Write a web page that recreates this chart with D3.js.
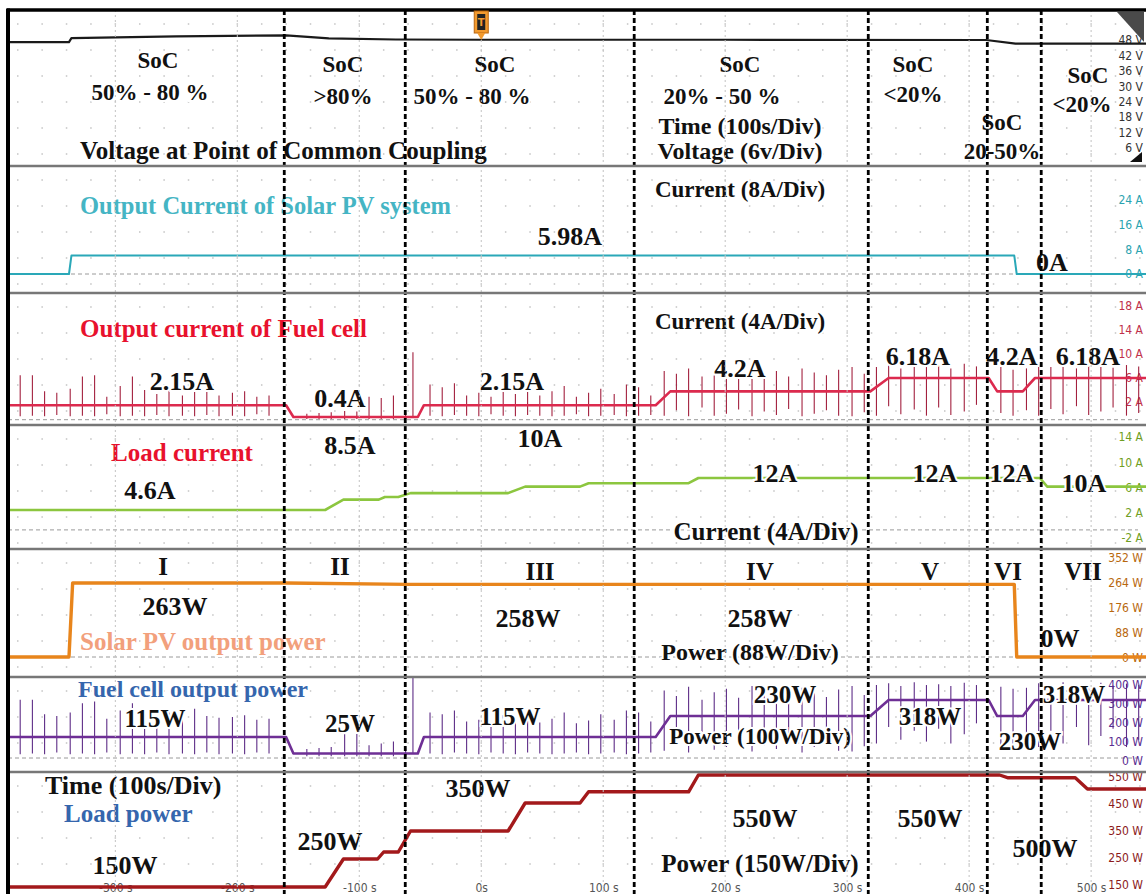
<!DOCTYPE html>
<html>
<head>
<meta charset="utf-8">
<script src="https://cdn.jsdelivr.net/npm/d3@7"></script>
<style>
  body { margin: 0; background: #fff; }
  svg { display: block; }
</style>
</head>
<body>
<svg id="scope" width="1146" height="894"></svg>
<script>
// ---------------- data ----------------
// time axis (seconds)
const timeTicks = [-300, -200, -100, 0, 100, 200, 300, 400, 500];
// operating-mode boundaries (s) and mode names
const modeBounds = [-161.5, -62.3, 125.4, 317.3, 414.9, 459.1];
const modeNames = ["I", "II", "III", "IV", "V", "VI", "VII"];

// right-hand channel scale labels
const voltTicks    = [48, 42, 36, 30, 24, 18, 12, 6];
const pvCurTicks   = [24, 16, 8, 0];
const fcCurTicks   = [18, 14, 10, 6, 2];
const loadCurTicks = [14, 10, 6, 2, -2];
const pvPowTicks   = [352, 264, 176, 88, 0];
const fcPowTicks   = [400, 300, 200, 100, 0];
const loadPowTicks = [550, 450, 350, 250, 150];

// PCC voltage (V)
const voltT = [-388, -338, -336, -250, -160, -125, -70, 0, 200, 414, 438, 545];
const voltV = [47.2, 47.2, 48.7, 49.4, 49.8, 48.6, 48.2, 48.1, 48.1, 48.0, 46.6, 46.6];

// PV current (A): levels and transitions [start, end] in s
const pvCurLevels = [0, 5.98, 0];
const pvCurTrans  = [[-338, -336], [437, 439]];

// fuel cell current (A) and power (W)
const fcCurLevels = [2.15, 0.4, 2.15, 4.2, 6.18, 4.2, 6.18];
const fcPowLevels = [115, 25, 115, 230, 318, 230, 318];
const fcTrans     = [[-160, -154], [-52, -47], [143, 155], [319, 334], [416, 423], [444, 454]];

// load current (A)
const loadCurLevels = [4.6, 7.0, 7.6, 8.5, 10, 10.8, 12, 10];
const loadCurTrans  = [[-128, -113], [-84, -79], [-68, -58], [22, 36], [81, 88], [170, 178], [458, 464]];

// PV power (W)
const pvPowLevels = [0, 263, 258, 0];
const pvPowTrans  = [[-338, -335], [-160, -60], [437, 439]];

// load power (W)
const loadPowLevels = [150, 250, 275, 350, 450, 490, 550, 540, 500];
const loadPowTrans  = [[-128, -113], [-85, -80], [-68, -58], [22, 36], [81, 88], [170, 178], [425, 432], [487, 497]];

// switching spikes on the fuel cell channels
const spikeT = [
  -378, -368, -358, -348, -337, -327, -317, -307, -296, -286, -276, -266, -256, -245, -235, -225, -215, -204, -194, -184, -174,
  -143, -133, -123, -112, -102, -92, -82, -72, -62, -56,
  -42, -32, -22, -12, -2, 8, 18, 28, 38, 48, 58, 68, 78, 88, 98, 109, 119, 129, 139,
  150, 160, 170, 181, 191, 201, 211, 222, 232, 242, 252, 263, 273, 283, 293, 304, 314,
  324, 334, 344, 355, 365, 375, 385, 396, 406,
  426, 436, 447,
  457, 467, 477, 488, 498, 508, 518, 529, 539
];
const fcCurSpikeTop = [
  6.6, 6.6, 4.2, 4.0, 4.6, 6.4, 6.6, 3.4, 5.0, 6.4, 4.4, 3.8, 4.8, 3.6, 5.2, 4.2, 3.6, 4.0, 4.2, 3.4, 3.6,
  0.9, 1.0, 1.1, 1.3, 1.2, 3.4, 3.2, 3.6, 1.0, 10.0,
  5.2, 4.8, 5.4, 3.6, 4.0, 3.4, 4.6, 3.8, 4.4, 3.6, 4.2, 5.0, 3.4, 4.0, 4.6, 3.8, 5.2, 4.8, 3.6,
  7.2, 6.8, 7.6, 6.4, 7.0, 7.4, 6.6, 7.8, 6.8, 7.2, 6.4, 7.6, 7.0, 6.6, 7.4, 7.8, 6.8,
  7.8, 8.2, 7.6, 8.4, 7.8, 8.0, 7.6, 8.3, 7.9,
  7.8, 7.4, 7.6,
  8.2, 7.8, 8.4, 7.6, 8.0, 8.3, 7.7, 8.1, 7.9
];
const fcCurSpikeBot = [
  0.5, 0.6, 0.5, 0.7, 0.5, 0.6, 0.5, 0.8, 0.5, 0.6, 0.5, 0.7, 0.5, 0.6, 0.5, 0.7, 0.5, 0.6, 0.5, 0.8, 0.6,
  0.1, 0.1, 0.1, 0.1, 0.1, 0.1, 0.1, 0.1, 0.1, 0.4,
  0.6, 0.5, 0.7, 0.6, 0.5, 0.8, 0.6, 0.5, 0.7, 0.6, 0.5, 0.6, 0.8, 0.5, 0.6, 0.7, 0.5, 0.6, 0.7,
  0.6, 1.4, 0.5, 1.8, 0.6, 0.9, 1.5, 0.5, 1.2, 0.7, 1.6, 0.5, 0.9, 1.4, 0.6, 0.5, 1.1,
  0.6, 2.0, 0.8, 1.5, 0.6, 1.8, 0.7, 1.2, 2.2,
  1.0, 0.6, 1.4,
  0.6, 1.6, 0.8, 2.0, 0.7, 1.2, 1.8, 0.6, 1.0
];
const fcPowSpikeTop = [
  320, 320, 240, 230, 250, 300, 310, 215, 260, 300, 240, 225, 255, 215, 270, 230, 220, 225, 235, 210, 215,
  50, 55, 60, 130, 150, 70, 80, 90, 60, 440,
  250, 240, 260, 200, 210, 190, 235, 205, 225, 195, 215, 250, 190, 205, 240, 210, 260, 250, 200,
  370, 340, 390, 320, 360, 380, 330, 395, 350, 365, 325, 385, 355, 335, 375, 395, 345,
  400, 410, 395, 415, 400, 405, 395, 412, 400,
  390, 380, 385,
  410, 400, 415, 395, 405, 412, 398, 408, 402
];
const fcPowSpikeBot = [
  20, 25, 20, 30, 20, 25, 20, 30, 20, 25, 20, 30, 20, 25, 20, 30, 20, 25, 20, 30, 25,
  10, 10, 10, 10, 10, 10, 10, 10, 10, 25,
  25, 20, 30, 25, 20, 30, 25, 20, 30, 25, 20, 25, 30, 20, 25, 30, 20, 25, 30,
  40, 80, 30, 100, 45, 60, 90, 35, 70, 50, 95, 30, 60, 85, 40, 35, 65,
  80, 170, 100, 150, 90, 160, 80, 130, 190,
  60, 40, 80,
  60, 150, 80, 170, 70, 120, 160, 60, 100
];

// ---------------- layout ----------------
const W = 1146, H = 894, L = 8, TOP = 10;
const T0 = -388, T1 = 545;
const x = d3.scaleLinear().domain([T0, T1]).range([L, W]);

// per-channel band, scale-label placement and trace scale anchors
const panels = [
  { id: "volt",    top: TOP, bottom: 166, ticks: voltTicks,    unit: "V", tickY: [40, 148],  label: "#333333" },
  { id: "pvCur",   top: 166, bottom: 293, ticks: pvCurTicks,   unit: "A", tickY: [200, 274], label: "#2aa3b0" },
  { id: "fcCur",   top: 293, bottom: 425, ticks: fcCurTicks,   unit: "A", tickY: [306, 402], label: "#c0304a",
    trace: { dom: [0, 6.18], rng: [419.7, 378] } },
  { id: "loadCur", top: 425, bottom: 549, ticks: loadCurTicks, unit: "A", tickY: [437, 538], label: "#6f9e22",
    trace: { dom: [4.6, 12], rng: [510, 478] } },
  { id: "pvPow",   top: 549, bottom: 677, ticks: pvPowTicks,   unit: "W", tickY: [558, 658], label: "#b8680e",
    trace: { dom: [0, 263], rng: [657, 583] } },
  { id: "fcPow",   top: 677, bottom: 772, ticks: fcPowTicks,   unit: "W", tickY: [685, 761], label: "#5a2d91",
    trace: { dom: [0, 318], rng: [758, 700] } },
  { id: "loadPow", top: 772, bottom: H,   ticks: loadPowTicks, unit: "W", tickY: [777, 885], label: "#8b1a1a",
    trace: { dom: [150, 550], rng: [887, 775] } }
];
const P = {};
panels.forEach(p => {
  p.axis = d3.scaleLinear().domain([p.ticks[0], p.ticks[p.ticks.length - 1]]).range(p.tickY);
  p.y = p.trace ? d3.scaleLinear().domain(p.trace.dom).range(p.trace.rng) : p.axis;
  P[p.id] = p;
});

const svg = d3.select("#scope");
const defs = svg.append("defs");
panels.forEach(p => {
  defs.append("clipPath").attr("id", "clip-" + p.id)
    .append("rect").attr("x", L).attr("y", p.top).attr("width", W - L).attr("height", p.bottom - p.top);
});

// step trace: hold each level, ramp across each transition window
function stepPoints(levels, trans) {
  const pts = [[T0, levels[0]]];
  trans.forEach(([a, b], i) => { pts.push([a, levels[i]]); pts.push([b, levels[i + 1]]); });
  pts.push([T1, levels[levels.length - 1]]);
  return pts;
}

const narrow = "'Liberation Sans Narrow','DejaVu Sans Condensed','DejaVu Sans',sans-serif";

// ---------------- background grid dots ----------------
const gDots = svg.append("g").attr("fill", "#c4c4c4");
panels.forEach(p => {
  const rows = d3.range(p.top + 14, p.bottom - 4, 26);
  const cols = d3.range(-380, T1, 20);
  rows.forEach(yy => cols.forEach(tt => {
    gDots.append("rect").attr("x", x(tt) - 0.75).attr("y", yy - 0.75).attr("width", 1.5).attr("height", 1.5);
  }));
});

// ---------------- zero reference lines ----------------
const gZero = svg.append("g").attr("stroke", "#9a9a9a").attr("stroke-width", 1).attr("stroke-dasharray", "4,3");
["pvCur", "fcCur", "loadCur", "pvPow", "fcPow"].forEach(id => {
  const yy = P[id].y(0);
  gZero.append("line").attr("x1", L).attr("x2", W - 8).attr("y1", yy).attr("y2", yy);
});

// ---------------- channel scale labels (right) ----------------
panels.forEach(p => {
  const ax = d3.axisLeft(p.axis).tickValues(p.ticks).tickSize(0).tickPadding(0)
    .tickFormat(d => d + " " + p.unit);
  const g = svg.append("g").attr("transform", `translate(${W - 3},0)`).call(ax);
  g.select(".domain").remove();
  g.selectAll("text").attr("fill", p.label)
    .style("font-family", narrow).style("font-size", "12px");
});

// ---------------- time axis labels ----------------
const gx = svg.append("g").attr("transform", `translate(0,${H - 11})`)
  .call(d3.axisBottom(x).tickValues(timeTicks).tickSize(0).tickPadding(0)
    .tickFormat(d => d === 0 ? "0s" : d + " s"));
gx.select(".domain").remove();
gx.selectAll("text").attr("fill", "#555")
  .style("font-family", narrow).style("font-size", "12px");

// ---------------- traces ----------------
function drawTrace(id, pts, color, width) {
  const p = P[id];
  const line = d3.line().x(d => x(d[0])).y(d => p.y(d[1]));
  svg.append("path").attr("clip-path", `url(#clip-${id})`)
    .attr("d", line(pts)).attr("fill", "none").attr("stroke", color)
    .attr("stroke-width", width).attr("stroke-linejoin", "round");
}
function drawSpikes(id, tops, bots, color) {
  const p = P[id];
  const g = svg.append("g").attr("clip-path", `url(#clip-${id})`).attr("stroke", color).attr("stroke-width", 1.1);
  spikeT.forEach((t, i) => {
    g.append("line").attr("x1", x(t)).attr("x2", x(t)).attr("y1", p.y(tops[i])).attr("y2", p.y(bots[i]));
  });
}

drawTrace("volt", voltT.map((t, i) => [t, voltV[i]]), "#1a1a1a", 2.2);
drawTrace("pvCur", stepPoints(pvCurLevels, pvCurTrans), "#2aa8b8", 2);
drawSpikes("fcCur", fcCurSpikeTop, fcCurSpikeBot, "#a3213f");
drawTrace("fcCur", stepPoints(fcCurLevels, fcTrans), "#dc2a4e", 2.6);
drawTrace("loadCur", stepPoints(loadCurLevels, loadCurTrans), "#8cc63f", 2.6);
drawTrace("pvPow", stepPoints(pvPowLevels, pvPowTrans), "#e8851c", 3.4);
drawSpikes("fcPow", fcPowSpikeTop, fcPowSpikeBot, "#5e2d87");
drawTrace("fcPow", stepPoints(fcPowLevels, fcTrans), "#6e2f95", 2.6);
drawTrace("loadPow", stepPoints(loadPowLevels, loadPowTrans), "#a3191b", 3.4);

// ---------------- annotations ----------------
const A = v => v + "A", Wt = v => v + "W";
const black = "#111";
// s: font size in px
const notes = [
  // PCC voltage band
  { t: "SoC", x: 158, y: 68, s: 23 }, { t: "50% - 80 %", x: 150, y: 100, s: 23 },
  { t: "SoC", x: 343, y: 72, s: 23 }, { t: ">80%", x: 343, y: 104, s: 23 },
  { t: "SoC", x: 495, y: 72, s: 23 }, { t: "50% - 80 %", x: 472, y: 104, s: 23 },
  { t: "SoC", x: 740, y: 72, s: 23 }, { t: "20% - 50 %", x: 722, y: 104, s: 23 },
  { t: "Time (100s/Div)", x: 740, y: 134, s: 24 }, { t: "Voltage (6v/Div)", x: 740, y: 159, s: 24 },
  { t: "SoC", x: 913, y: 72, s: 23 }, { t: "<20%", x: 913, y: 102, s: 23 },
  { t: "SoC", x: 1088, y: 83, s: 23 }, { t: "<20%", x: 1082, y: 112, s: 23 },
  { t: "SoC", x: 1002, y: 130, s: 23 }, { t: "20-50%", x: 1002, y: 159, s: 23 },
  { t: "Voltage at Point of Common Coupling", x: 80, y: 159, a: "start", s: 25 },
  // PV current band
  { t: "Output Current of Solar PV system", x: 80, y: 214, a: "start", c: "#45b5c4", s: 24.5 },
  { t: "Current (8A/Div)", x: 740, y: 197, s: 23 },
  { t: A(pvCurLevels[1]), x: 570, y: 245, s: 26 },
  { t: A(pvCurLevels[2]), x: 1052, y: 271, s: 26 },
  // fuel cell current band
  { t: "Output current of Fuel cell", x: 80, y: 337, a: "start", c: "#e8112d", s: 25 },
  { t: "Current (4A/Div)", x: 740, y: 329, s: 23 },
  { t: A(fcCurLevels[0]), x: 182, y: 390, s: 26 }, { t: A(fcCurLevels[1]), x: 340, y: 407, s: 26 },
  { t: A(fcCurLevels[2]), x: 512, y: 390, s: 26 }, { t: A(fcCurLevels[3]), x: 740, y: 377, s: 26 },
  { t: A(fcCurLevels[4]), x: 918, y: 365, s: 26 }, { t: A(fcCurLevels[5]), x: 1012, y: 365, s: 26 },
  { t: A(fcCurLevels[6]), x: 1088, y: 365, s: 26 },
  // load current band
  { t: "Load current", x: 182, y: 461, c: "#e8112d", s: 25 },
  { t: A(loadCurLevels[0]), x: 150, y: 499, s: 26 }, { t: A(loadCurLevels[3]), x: 350, y: 454, s: 26 },
  { t: A(loadCurLevels[4]), x: 540, y: 447, s: 26 },
  { t: A(loadCurLevels[6]), x: 775, y: 482, s: 26 }, { t: A(loadCurLevels[6]), x: 935, y: 482, s: 26 },
  { t: A(loadCurLevels[6]), x: 1012, y: 482, s: 26 }, { t: A(loadCurLevels[7]), x: 1084, y: 492, s: 26 },
  { t: "Current (4A/Div)", x: 766, y: 540, s: 25 },
  // PV power band
  { t: Wt(pvPowLevels[1]), x: 175, y: 615, s: 26 }, { t: Wt(pvPowLevels[2]), x: 528, y: 627, s: 26 },
  { t: Wt(pvPowLevels[2]), x: 760, y: 627, s: 26 },
  { t: "Solar PV output power", x: 80, y: 650, a: "start", c: "#f2a07c", s: 25 },
  { t: "Power (88W/Div)", x: 750, y: 660, s: 24 },
  { t: Wt(pvPowLevels[3]), x: 1060, y: 647, s: 26 },
  // fuel cell power band
  { t: "Fuel cell output power", x: 78, y: 697, a: "start", c: "#3566ad", s: 24 },
  { t: Wt(fcPowLevels[0]), x: 155, y: 727, s: 25 }, { t: Wt(fcPowLevels[1]), x: 350, y: 732, s: 25 },
  { t: Wt(fcPowLevels[2]), x: 510, y: 725, s: 25 }, { t: Wt(fcPowLevels[3]), x: 785, y: 703, s: 25 },
  { t: Wt(fcPowLevels[4]), x: 930, y: 725, s: 25 }, { t: Wt(fcPowLevels[5]), x: 1030, y: 750, s: 25 },
  { t: Wt(fcPowLevels[6]), x: 1074, y: 703, s: 25 },
  { t: "Power (100W/Div)", x: 760, y: 744, s: 23 },
  // load power band
  { t: "Time (100s/Div)", x: 45, y: 794, a: "start", s: 26 },
  { t: "Load power", x: 64, y: 822, a: "start", c: "#3566ad", s: 25 },
  { t: Wt(loadPowLevels[0]), x: 125, y: 874, s: 26 }, { t: Wt(loadPowLevels[1]), x: 330, y: 850, s: 26 },
  { t: Wt(loadPowLevels[3]), x: 478, y: 797, s: 26 }, { t: Wt(loadPowLevels[6]), x: 765, y: 827, s: 26 },
  { t: Wt(loadPowLevels[6]), x: 930, y: 827, s: 26 }, { t: Wt(loadPowLevels[8]), x: 1045, y: 857, s: 26 },
  { t: "Power (150W/Div)", x: 760, y: 872, s: 25 }
];
// mode numerals in the PV power band
const romanX = [163, 340, 540, 760, 930, 1008, 1083], romanY = [575, 575, 580, 580, 580, 580, 580];
modeNames.forEach((m, i) => notes.push({ t: m, x: romanX[i], y: romanY[i], s: 25 }));

svg.append("g").selectAll("text").data(notes).join("text")
  .attr("x", d => d.x).attr("y", d => d.y)
  .attr("text-anchor", d => d.a || "middle")
  .attr("fill", d => d.c || black)
  .attr("stroke", "#fff").attr("stroke-width", 4).attr("paint-order", "stroke")
  .style("font-family", "'Liberation Serif','Times New Roman',serif")
  .style("font-weight", "bold").style("font-size", d => d.s + "px")
  .text(d => d.t);

// ---------------- vertical grid (100 s) ----------------
svg.append("g").selectAll("line").data(timeTicks).join("line")
  .attr("x1", d => x(d)).attr("x2", d => x(d)).attr("y1", TOP).attr("y2", H)
  .attr("stroke", "#c2c2c2").attr("stroke-width", 1).attr("stroke-dasharray", "2,3");

// ---------------- mode boundary markers ----------------
svg.append("g").selectAll("line").data(modeBounds).join("line")
  .attr("x1", d => x(d)).attr("x2", d => x(d)).attr("y1", TOP).attr("y2", H)
  .attr("stroke", "#000").attr("stroke-width", 2.8).attr("stroke-dasharray", "5,3");

// ---------------- band separators and frame ----------------
svg.append("g").selectAll("line").data(panels.slice(0, -1)).join("line")
  .attr("x1", L).attr("x2", W).attr("y1", d => d.bottom).attr("y2", d => d.bottom)
  .attr("stroke", "#777").attr("stroke-width", 2.6);
svg.append("line").attr("x1", L - 1).attr("x2", W).attr("y1", TOP).attr("y2", TOP)
  .attr("stroke", "#000").attr("stroke-width", 3.4);
svg.append("line").attr("x1", L).attr("x2", L).attr("y1", TOP - 1.5).attr("y2", H)
  .attr("stroke", "#000").attr("stroke-width", 4);

// trigger marker at t = 0
const trig = svg.append("g").attr("transform", `translate(${x(0)},0)`);
trig.append("rect").attr("x", -7).attr("y", 11).attr("width", 14).attr("height", 22)
  .attr("fill", "#f29a2e").attr("stroke", "#b8650f");
trig.append("rect").attr("x", -4).attr("y", 14).attr("width", 8).attr("height", 16).attr("fill", "#222");
trig.append("text").attr("x", 0).attr("y", 26).attr("text-anchor", "middle").attr("fill", "#f29a2e")
  .style("font-family", "'DejaVu Sans',sans-serif").style("font-size", "10px").style("font-weight", "bold").text("T");
trig.append("path").attr("d", "M-4,33 L4,33 L0,40 Z").attr("fill", "#f29a2e");

// scroll corner and voltage ground marker
svg.append("path").attr("d", `M${W - 29},12 L${W - 2},12 L${W - 2},42 Z`).attr("fill", "#4a4a4a");
svg.append("path").attr("d", `M${W - 16},${P.volt.bottom - 4} L${W - 4},${P.volt.bottom - 4} L${W - 4},${P.volt.bottom - 14} Z`)
  .attr("fill", "#111");
</script>
</body>
</html>
